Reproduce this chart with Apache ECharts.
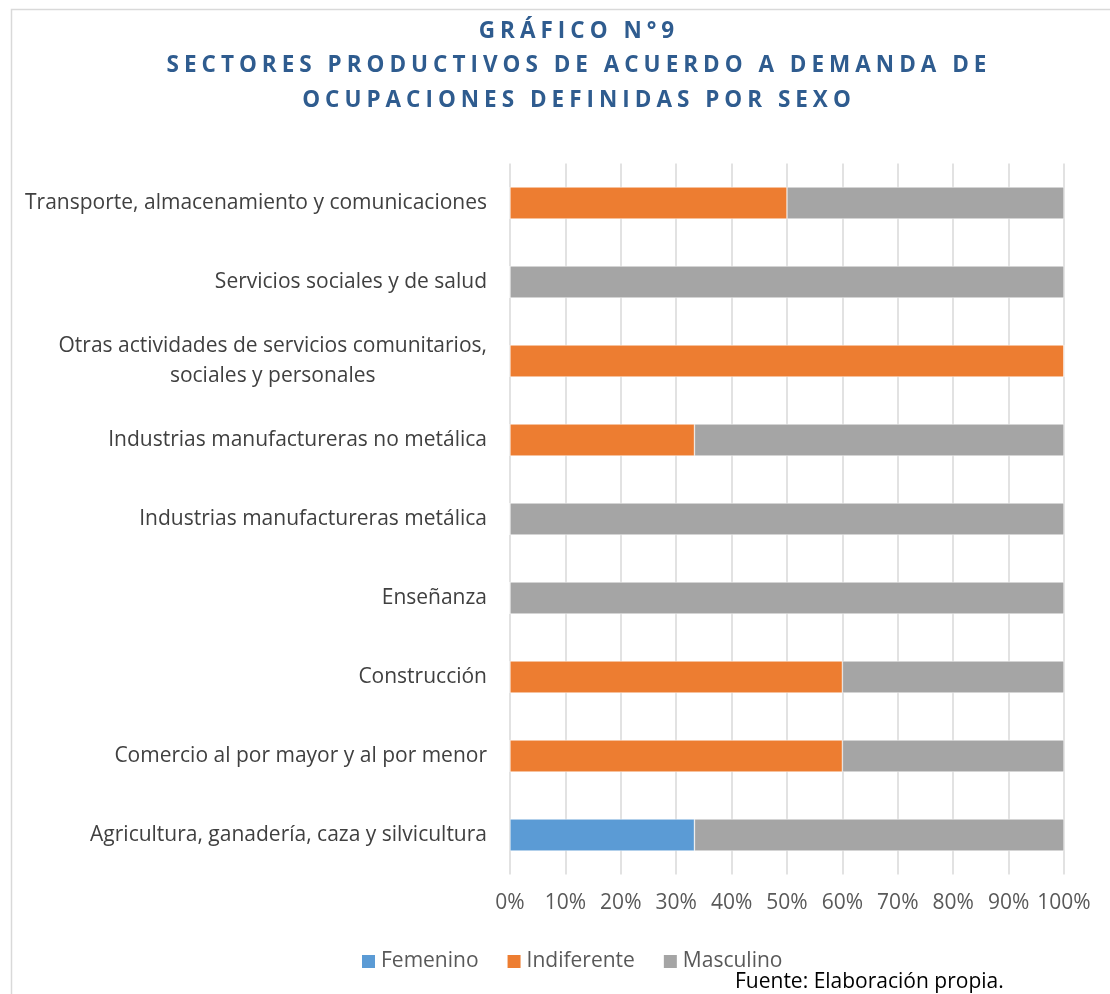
<!DOCTYPE html>
<html><head><meta charset="utf-8">
<script src="https://cdn.jsdelivr.net/npm/echarts@6/dist/echarts.min.js"></script>
<style>
html,body{margin:0;padding:0;background:#fff;}
#wrap{position:relative;width:1110px;height:994px;}
#main{position:absolute;left:0;top:0;width:1110px;height:994px;}
#ttl{position:absolute;left:0;top:0;width:1110px;height:130px;pointer-events:none;letter-spacing:5px;}
#ttl text{letter-spacing:5px;}
</style></head>
<body>
<div id="wrap"><div id="main"></div><div id="ttl"></div></div>
<script>
const titleText = 'GRÁFICO N°9\nSECTORES PRODUCTIVOS DE ACUERDO A DEMANDA DE\nOCUPACIONES DEFINIDAS POR SEXO';
const sourceText = 'Fuente: Elaboración propia.';
const categories = [
  'Agricultura, ganadería, caza y silvicultura',
  'Comercio al por mayor y al por menor',
  'Construcción',
  'Enseñanza',
  'Industrias manufactureras metálica',
  'Industrias manufactureras no metálica',
  'Otras actividades de servicios comunitarios,\nsociales y personales',
  'Servicios sociales y de salud',
  'Transporte, almacenamiento y comunicaciones'
];
const seriesNames = ['Femenino', 'Indiferente', 'Masculino'];
const femenino    = [33.3, 0, 0, 0, 0, 0, 0, 0, 0];
const indiferente = [0, 60, 60, 0, 0, 33.3, 100, 0, 50];
const masculino   = [66.7, 40, 40, 100, 100, 66.7, 0, 100, 50];
const colors = ['#5B9BD5', '#ED7D31', '#A5A5A5'];
const xTicks = [0, 10, 20, 30, 40, 50, 60, 70, 80, 90, 100];

const FONT = '"Open Sans", sans-serif';
const FS = 21;
const chart = echarts.init(document.getElementById('main'), null, {renderer: 'canvas'});
const dataSets = [femenino, indiferente, masculino];
chart.setOption({
  animation: false,
  backgroundColor: '#ffffff',
  textStyle: {fontFamily: FONT},
  grid: {left: 510, right: 46, top: 163.5, bottom: 119.5, containLabel: false},
  xAxis: {
    type: 'value', min: xTicks[0], max: xTicks[xTicks.length - 1], interval: 10,
    axisLine: {show: false}, axisTick: {show: false},
    splitLine: {show: true, lineStyle: {color: '#D9D9D9', width: 1.5}},
    axisLabel: {formatter: v => v + '%', color: '#595959', fontSize: FS, fontFamily: FONT, margin: 18}
  },
  yAxis: {
    type: 'category', data: categories,
    axisLine: {show: false}, axisTick: {show: false},
    axisLabel: {
      color: '#404040', fontSize: FS, fontFamily: FONT, margin: 23,
      formatter: function (v) {
        if (v.indexOf('\n') >= 0) {
          return v.split('\n').map(s => '{c|' + s + '}').join('\n');
        }
        return v;
      },
      rich: {c: {align: 'center', color: '#404040', fontSize: FS, fontFamily: FONT, lineHeight: 30}}
    }
  },
  legend: {
    bottom: 17, left: 355, itemWidth: 15, itemHeight: 15, itemGap: 27,
    icon: 'rect',
    textStyle: {color: '#595959', fontSize: FS, fontFamily: FONT},
    data: seriesNames
  },
  series: seriesNames.map((n, i) => ({
    name: n, type: 'bar', stack: 'total', data: dataSets[i], barWidth: 32,
    itemStyle: {color: colors[i], borderColor: '#ffffff', borderWidth: 0.5}
  })),
  graphic: [
    {type: 'rect', left: 9, top: 7, shape: {width: 1300, height: 1300}, style: {fill: 'none', stroke: '#D9D9D9', lineWidth: 1.5}, silent: true, z: -1},
    {type: 'text', left: 735, top: 972, style: {text: sourceText, fill: '#000000', font: FS + 'px ' + FONT}}
  ]
});

const tchart = echarts.init(document.getElementById('ttl'), null, {renderer: 'svg'});
tchart.setOption({
  animation: false,
  backgroundColor: 'transparent',
  title: {
    text: titleText, left: 574, top: 7, textAlign: 'center',
    textStyle: {color: '#2F5C8F', fontSize: 22.5, fontWeight: 'bold', fontFamily: FONT, lineHeight: 34.5}
  }
});
</script>
</body></html>
